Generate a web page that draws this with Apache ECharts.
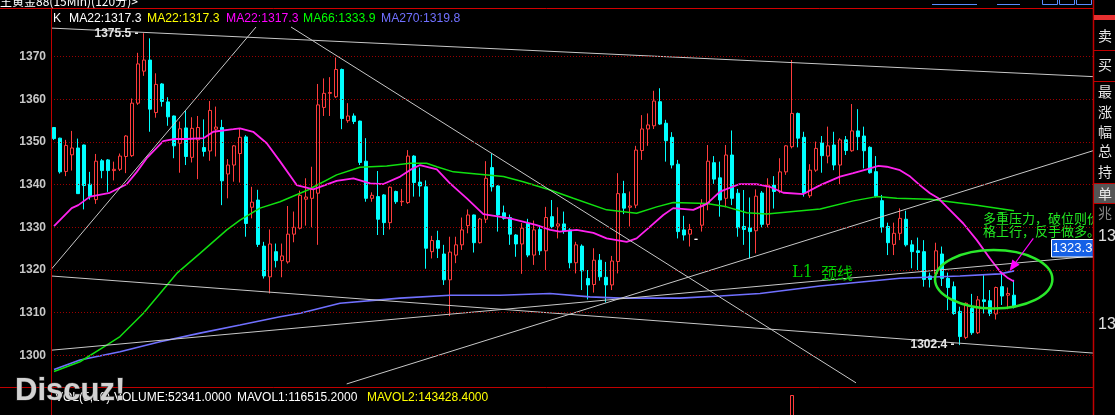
<!DOCTYPE html>
<html>
<head>
<meta charset="utf-8">
<script src="https://cdn.jsdelivr.net/npm/echarts@6.0.0/dist/echarts.min.js"></script>
<style>
html,body{margin:0;padding:0;background:#000;overflow:hidden;}
#chart{width:1115px;height:415px;}
</style>
</head>
<body>
<div id="chart"></div>
<script>
// ---------------- DATA ----------------
const opens = [1353.4,1350.9,1343.1,1347.0,1348.6,1349.3,1340.1,1336.5,1345.6,1345.8,
1343.3,1343.6,1346.6,1346.8,1359.1,1366.6,1369.2,1356.9,1363.6,1359.4,
1356.1,1349.7,1353.3,1346.4,1350.5,1348.7,1347.9,1353.0,1353.4,1342.5,
1344.6,1347.3,1351.2,1334.7,1336.4,1325.6,1318.4,1324.3,1322.2,1321.9,
1328.4,1329.8,1336.6,1336.8,1338.0,1358.1,1361.4,1360.6,1367.0,1355.0,
1356.1,1354.9,1345.5,1336.8,1337.2,1337.6,1331.1,1338.4,1336.0,1335.8,
1346.7,1340.6,1339.5,1324.3,1326.9,1323.75,1317.7,1323.5,1325.9,1330.4,
1332.9,1326.4,1331.9,1344.0,1339.7,1333.4,1332.3,1328.2,1326.1,1330.9,
1323.5,1329.5,1324.5,1332.5,1330.3,1330.8,1329.4,1321.7,1325.6,1318.0,
1316.6,1322.3,1318.3,1316.5,1322.0,1337.9,1334.7,1335.2,1348.0,1353.05,
1353.8,1359.45,1354.4,1351.1,1344.8,1329.4,1328.4,1327.2,1330.5,1335.6,
1345.15,1341.6,1336.8,1346.95,1338.0,1330.2,1329.9,1329.2,1338.05,1330.7,
1339.9,1338.4,1343.0,1348.9,1356.7,1351.1,1337.4,1343.4,1349.8,1346.7,
1349.3,1344.6,1350.5,1347.95,1352.6,1351.4,1348.75,1343.05,1336.25,1330.2,
1326.0,1328.6,1331.9,1325.9,1324.5,1324.3,1318.6,1319.1,1323.75,1318.05,
1316.1,1310.3,1304.2,1311.0,1305.3,1313.0,1312.8,1309.7,1316.1,1314.1,
1314.1];
const closes = [1350.8,1343.0,1349.2,1348.6,1337.9,1339.8,1337.2,1345.5,1343.3,1343.3,
1343.6,1346.7,1351.4,1359.1,1368.3,1369.2,1357.7,1363.5,1359.5,1355.9,
1349.1,1353.1,1346.6,1353.2,1353.4,1347.8,1357.4,1353.5,1340.9,1344.6,
1349.1,1351.1,1330.9,1335.9,1326.0,1318.6,1326.1,1322.2,1323.3,1328.4,
1330.0,1337.5,1337.1,1338.9,1358.7,1361.4,1361.6,1367.0,1355.5,1356.1,
1354.8,1345.2,1336.8,1337.5,1331.9,1331.1,1339.4,1336.0,1336.1,1346.7,
1340.5,1339.7,1325.1,1326.9,1325.1,1317.7,1324.2,1325.9,1329.4,1332.9,
1326.4,1331.95,1341.5,1339.5,1332.9,1332.1,1328.4,1326.1,1329.8,1323.5,
1329.4,1324.5,1332.3,1330.2,1330.8,1329.1,1321.7,1325.9,1319.8,1316.5,
1322.3,1318.4,1316.5,1322.1,1337.9,1334.5,1335.0,1348.1,1353.05,1354.0,
1359.6,1354.2,1350.3,1344.6,1329.0,1328.2,1329.5,1327.2,1335.5,1345.5,
1341.3,1336.4,1346.95,1336.8,1329.9,1329.5,1329.0,1337.3,1330.7,1339.9,
1338.4,1343.0,1349.1,1356.7,1350.9,1338.0,1343.4,1348.5,1346.8,1349.1,
1344.6,1350.5,1348.0,1352.6,1351.25,1347.95,1342.8,1337.3,1330.0,1326.4,
1328.6,1332.1,1325.9,1324.3,1324.1,1317.8,1317.8,1324.5,1318.05,1315.9,
1309.8,1304.4,1312.2,1305.3,1313.0,1312.6,1309.85,1315.9,1313.9,1314.5,
1311.4];
const lows = [1350.5,1342.6,1342.0,1343.3,1337.9,1334.2,1336.5,1335.5,1341.5,1338.3,
1341.0,1343.2,1342.7,1346.5,1358.7,1365.5,1352.4,1355.7,1358.3,1353.8,
1346.2,1342.8,1344.6,1345.2,1341.3,1346.6,1345.6,1346.6,1335.2,1336.8,
1340.7,1340.5,1327.8,1332.1,1325.4,1318.0,1314.5,1320.6,1318.3,1321.5,
1326.5,1329.5,1330.4,1330.0,1325.9,1356.1,1356.1,1360.3,1353.0,1354.5,
1354.2,1344.6,1336.0,1336.0,1328.2,1328.2,1329.5,1335.5,1335.0,1335.5,
1337.2,1337.2,1320.3,1322.7,1322.8,1316.5,1309.2,1321.6,1324.7,1328.6,
1324.1,1326.2,1331.0,1338.4,1329.0,1331.8,1325.9,1323.1,1319.1,1323.0,
1321.2,1323.5,1320.0,1329.8,1327.4,1328.5,1320.4,1319.2,1315.3,1313.1,
1314.7,1317.5,1312.4,1315.3,1319.2,1333.1,1330.2,1334.5,1345.8,1349.1,
1353.05,1354.0,1345.4,1343.8,1327.4,1326.9,1325.5,1327.2,1329.0,1334.0,
1340.2,1332.5,1334.7,1335.2,1327.8,1325.9,1322.7,1323.9,1330.0,1330.0,
1334.4,1338.0,1342.3,1348.5,1348.75,1337.2,1336.9,1343.0,1342.8,1345.0,
1343.4,1340.1,1346.95,1347.7,1348.1,1343.8,1342.6,1337.0,1328.75,1323.5,
1323.5,1327.0,1325.5,1320.4,1320.0,1316.1,1315.9,1318.8,1316.25,1310.6,
1309.5,1302.4,1303.8,1304.8,1305.0,1309.8,1309.2,1308.4,1311.8,1310.8,
1311.0];
const highs = [1353.4,1351.0,1350.5,1352.6,1350.8,1349.4,1343.0,1347.2,1346.0,1346.0,
1345.4,1347.3,1351.6,1360.2,1370.9,1375.5,1374.3,1366.1,1363.8,1360.5,
1356.2,1354.8,1357.5,1355.8,1356.1,1355.3,1359.6,1358.3,1355.2,1346.0,
1349.3,1353.1,1351.6,1339.5,1338.8,1326.6,1329.5,1326.2,1326.2,1335.0,
1333.7,1338.6,1341.5,1344.2,1363.6,1364.9,1365.2,1369.8,1367.2,1359.1,
1356.7,1355.0,1350.9,1338.2,1343.2,1337.8,1339.6,1338.6,1339.0,1348.1,
1346.9,1344.0,1341.0,1328.0,1329.2,1325.9,1327.8,1327.8,1332.3,1334.2,
1333.0,1332.2,1345.5,1347.3,1339.9,1335.1,1333.0,1328.4,1331.0,1332.0,
1331.6,1330.5,1334.8,1336.4,1334.7,1333.7,1329.8,1326.6,1326.0,1320.0,
1325.1,1323.75,1321.9,1323.3,1342.7,1340.9,1338.4,1349.1,1356.3,1356.7,
1362.0,1362.6,1355.2,1352.3,1345.8,1332.7,1330.8,1327.2,1336.6,1349.3,
1346.7,1345.4,1349.3,1352.7,1339.0,1338.75,1337.0,1338.9,1338.5,1341.5,
1342.0,1346.2,1349.3,1369.2,1356.9,1352.4,1344.8,1350.1,1351.4,1353.6,
1352.4,1350.9,1351.4,1358.9,1357.7,1353.6,1349.0,1346.7,1337.6,1331.1,
1331.1,1334.45,1333.9,1327.0,1327.6,1327.0,1319.4,1326.4,1325.5,1319.4,
1317.3,1311.4,1312.4,1314.4,1313.9,1318.8,1315.3,1316.1,1319.6,1315.9,
1317.7];

// moving averages: [bar index, price]
const ma22 = [[0,1330.3],[2.95,1334.5],[4.05,1335.2],[6,1337.2],[9.3,1338.1],[12.1,1340.1],[13.8,1343.0],
[15.45,1346.2],[18.2,1350.2],[19.9,1350.7],[22.1,1350.7],[24.9,1350.9],[26.55,1352.4],[29.9,1353.0],
[31,1353.2],[33.2,1352.4],[35.45,1349.7],[37.7,1345.4],[40.45,1339.9],[43.2,1338.9],[47.1,1340.9],
[49.9,1341.5],[52.7,1340.3],[54.9,1340.15],[57.7,1341.9],[59.3,1343.4],[61,1344.6],[63.8,1343.6],
[66,1340.3],[68.8,1336.8],[71.55,1333.1],[76,1332.1],[80.45,1330.5],[82.7,1329.4],[84.3,1329.0],
[87.1,1329.4],[89.9,1328.7],[92.1,1327.4],[95.45,1326.6],[97.1,1327.4],[99.3,1330.1],[101.55,1332.9],
[103.2,1334.5],[106.55,1334.1],[108.8,1335.5],[111,1338.35],[114.3,1340.15],[117.1,1340.1],
[119.3,1339.5],[121.55,1338.1],[124.9,1337.8],[127.7,1339.9],[131,1341.9],[133.2,1342.7],
[135.45,1343.6],[137.4,1344.4],[138.8,1344.2],[141,1343.4],[142.7,1341.9],[144.3,1339.9],
[146,1338.0],[147.4,1336.8],[148.8,1334.8],[151.55,1330.9],[153.8,1327.0],[156,1322.7],
[157.7,1319.6],[159.05,1318.05],[160,1317.3]];
const ma66 = [[0,1296.2],[4.33,1298.5],[8.78,1302.4],[11,1304.4],[14.9,1309.85],[17.67,1314.5],
[20.45,1319.2],[24.33,1323.9],[28.8,1329.4],[31,1331.7],[34.33,1334.5],[37.67,1336.0],[42.3,1338.75],
[47.1,1342.3],[51,1344.1],[55.45,1344.4],[59.3,1345.0],[62.1,1345.0],[63.8,1344.2],[66.55,1343.0],
[70.45,1342.5],[74.9,1341.9],[78.2,1340.7],[82.7,1338.75],[86.55,1336.8],[92.1,1334.1],[97.1,1333.3],
[100.45,1334.8],[103.2,1335.8],[108.8,1335.6],[112.1,1334.8],[115.45,1333.4],[118.8,1333.1],
[123.2,1333.7],[127.7,1334.3],[133.2,1336.2],[137.1,1337.2],[140.45,1336.8],[146,1336.6],
[153.8,1335.2],[160,1333.9]];
const ma270 = [[0,1296.7],[4.33,1298.9],[11,1300.85],[17.67,1303.2],[24.33,1305.2],[31,1307.1],
[37.67,1309.05],[41,1309.85],[47.67,1312.2],[57.67,1313.4],[66,1314.1],[74.33,1314.1],[82.67,1314.5],
[89.33,1313.7],[94.33,1313.4],[104.33,1313.4],[111,1313.9],[117.67,1314.5],[127.67,1316.25],
[141,1318.05],[151,1318.6],[157.67,1319.1],[160,1319.8]];

// hand-drawn trend lines: [bar index, price]
const trendTop = [[-0.5,1376.7],[173.5,1365.3]];
const trendRiseLeft = [[-0.5,1320.1],[33.67,1376.95]];
const trendFall = [[39.5,1376.95],[133.67,1293.55]];
const trendRiseLong = [[48.78,1293.3],[173.5,1348.1]];
const trendLowFall = [[-0.5,1318.6],[173.5,1300.5]];
const neckL1 = [[-0.5,1301.2],[173.5,1323.3]];

const yTicks = [1300,1310,1320,1330,1340,1350,1360,1370];
const slotCount = 174;
const categories = Array.from({length: slotCount}, (_, i) => String(i));
const legendTexts = ['K','MA22:1317.3','MA22:1317.3','MA22:1317.3','MA66:1333.9','MA270:1319.8'];
const volumeIdx = [123];
const volumeVal = [176000];
const volumeTexts = ['VOL(5,10)','VOLUME:52341.0000','MAVOL1:116515.2000','MAVOL2:143428.4000'];
const panelChars = ['卖','买','最','涨','幅','总','持','单','兆'];
const noteLines = ['多重压力，破位则价','格上行，反手做多。'];
const neckLabel = ['L1','颈线'];
const neckValue = '1323.3';

// ---------------- CHART ----------------
const candleData = opens.map((o, i) => [o, closes[i], lows[i], highs[i]]);
const volData = categories.map(() => null);
volumeIdx.forEach((k, j) => { volData[k] = volumeVal[j]; });

const RED = '#ff3c3c', CYAN = '#00ffff';
const FONT = '"Liberation Sans", Arial, sans-serif';
const CJK = '"Noto Sans CJK SC", sans-serif';

function lineSeries(data, color, width, z) {
  return {type:'line', xAxisIndex:1, yAxisIndex:0, data, symbol:'none', showSymbol:false,
    lineStyle:{color, width}, silent:true, z: z || 3, animation:false};
}

const legendColors = ['#ffffff','#ffffff','#ffff00','#ff00ff','#00ff00','#7070ff'];
const legendX = [53,69,147,226,303,381];
const panelY = [35.5,65,91.7,111.7,131.7,150.5,171.7,193.3,212.5];

const g = [];
// title (cut off at top)
g.push({type:'text', x:0, y:7, z:100, style:{text:'主黄金88(15Min)(120分)>', fill:'#ffffff', font:'12px '+CJK, verticalAlign:'bottom'}});
// top-right links
g.push({type:'line', z:100, shape:{x1:932,y1:4.5,x2:977,y2:4.5}, style:{stroke:'#5a8cff', lineWidth:1}});
g.push({type:'line', z:100, shape:{x1:997,y1:4.5,x2:1020,y2:4.5}, style:{stroke:'#5a8cff', lineWidth:1}});
[1042,1059,1076].forEach(x => g.push({type:'rect', z:100, shape:{x:x+0.5,y:-6,width:15,height:10.5}, style:{fill:'none', stroke:'#5a8cff', lineWidth:1}}));
// frame lines
g.push({type:'line', z:90, shape:{x1:0,y1:8.5,x2:1093,y2:8.5}, style:{stroke:'#d00000', lineWidth:1}});
g.push({type:'line', z:90, shape:{x1:0,y1:387.5,x2:1093,y2:387.5}, style:{stroke:'#c00000', lineWidth:1}});
g.push({type:'line', z:90, shape:{x1:51.5,y1:8.5,x2:51.5,y2:415}, style:{stroke:'#c00000', lineWidth:1}});
// legend
legendTexts.forEach((t, i) => g.push({type:'text', x:legendX[i], y:19, z:100,
  style:{text:t, fill:legendColors[i], font:'12.2px '+FONT, verticalAlign:'middle'}}));
// annotations
g.push({type:'ellipse', z:50, shape:{cx:993.7, cy:279.2, rx:58.7, ry:29.2}, style:{fill:'none', stroke:'#2ae82a', lineWidth:2.5}});
g.push({type:'text', x:983, y:218.3, z:50, style:{text:noteLines[0], fill:'#22e622', font:'13px '+CJK, verticalAlign:'middle'}});
g.push({type:'text', x:983, y:230.7, z:50, style:{text:noteLines[1], fill:'#22e622', font:'13px '+CJK, verticalAlign:'middle'}});
g.push({type:'line', z:50, shape:{x1:1033.3,y1:238.3,x2:1014.5,y2:264}, style:{stroke:'#ff00ff', lineWidth:1.2}});
g.push({type:'polygon', z:50, shape:{points:[[1009.5,271],[1019.6,264.75],[1012.4,259.45]]}, style:{fill:'#ff00ff'}});
g.push({type:'text', x:792, y:273, z:50, style:{text:neckLabel[0], fill:'#00cc00', font:'16px "DejaVu Serif", serif', verticalAlign:'middle'}});
g.push({type:'text', x:821, y:273, z:50, style:{text:neckLabel[1], fill:'#00cc00', font:'16px '+CJK, verticalAlign:'middle'}});
g.push({type:'rect', z:60, shape:{x:1051.5,y:239.5,width:42,height:17.5}, style:{fill:'#1560e6', stroke:'#ffffff', lineWidth:1}});
g.push({type:'text', x:1072.5, y:248.5, z:61, style:{text:neckValue, fill:'#ffffff', font:'13px '+FONT, align:'center', verticalAlign:'middle'}});
// right panel
g.push({type:'rect', z:100, shape:{x:1093,y:0,width:22,height:415}, style:{fill:'#000'}});
g.push({type:'line', z:101, shape:{x1:1093.5,y1:0,x2:1093.5,y2:415}, style:{stroke:'#c00000', lineWidth:1.5}});
g.push({type:'rect', z:101, shape:{x:1094,y:15,width:21,height:5}, style:{fill:'#e83030'}});
g.push({type:'rect', z:101, shape:{x:1094,y:183.5,width:21,height:19.5}, style:{fill:'#555555'}});
[50.5,81.5,183.5,203.5].forEach(y => g.push({type:'line', z:102, shape:{x1:1093,y1:y,x2:1115,y2:y}, style:{stroke:'#c00000', lineWidth:1}}));
panelChars.forEach((c, i) => g.push({type:'text', x:1098, y:panelY[i], z:103,
  style:{text:c, fill: i === 8 ? '#8a8a8a' : '#e6e6e6', font:'14px '+CJK, verticalAlign:'middle'}}));
g.push({type:'text', x:1098, y:237, z:103, style:{text:'13', fill:'#e0e0e0', font:'16px '+FONT, verticalAlign:'middle'}});
g.push({type:'text', x:1098, y:325, z:103, style:{text:'13', fill:'#e0e0e0', font:'16px '+FONT, verticalAlign:'middle'}});
// volume panel texts
g.push({type:'text', x:55, y:397.5, z:100, style:{text:volumeTexts[0], fill:'#ffffff', font:'12px '+FONT, verticalAlign:'middle'}});
g.push({type:'text', x:114, y:397.5, z:100, style:{text:volumeTexts[1], fill:'#ffffff', font:'12px '+FONT, verticalAlign:'middle'}});
g.push({type:'text', x:237, y:397.5, z:100, style:{text:volumeTexts[2], fill:'#ffffff', font:'12px '+FONT, verticalAlign:'middle'}});
g.push({type:'text', x:367, y:397.5, z:100, style:{text:volumeTexts[3], fill:'#ffff00', font:'12px '+FONT, verticalAlign:'middle'}});
// watermark
g.push({type:'text', x:15, y:391, z:110, style:{text:'Discuz!', fill:'#d2d2d2', font:'bold 31px '+FONT, verticalAlign:'middle', stroke:'rgba(70,70,70,0.8)', lineWidth:1}});

const option = {
  backgroundColor: '#000',
  animation: false,
  grid: [
    {left:51, top:9, width:1044, height:378},
    {left:51, top:392, width:1044, height:100}
  ],
  xAxis: [
    {type:'category', gridIndex:0, data:categories, show:false, boundaryGap:true},
    {type:'value', gridIndex:0, min:-0.5, max:slotCount-0.5, show:false},
    {type:'category', gridIndex:1, data:categories, show:false, boundaryGap:true}
  ],
  yAxis: [
    {type:'value', gridIndex:0, min:1292.58, max:1381.17, show:false, scale:true},
    {type:'value', gridIndex:1, min:0, max:200000, show:false}
  ],
  series: [
    {type:'line', xAxisIndex:1, yAxisIndex:0, data:[], z:1, silent:true,
      markLine:{silent:true, symbol:['none','none'], animation:false,
        lineStyle:{color:'#9a0000', type:[1,2], width:1},
        label:{show:true, position:'start', distance:5, color:'#c8c8c8', fontWeight:'bold', fontSize:12, fontFamily:'Liberation Sans', formatter: p => String(p.value)},
        data: yTicks.map(v => ({yAxis:v}))}},
    {type:'candlestick', xAxisIndex:0, yAxisIndex:0, data:candleData, barWidth:4, z:2,
      itemStyle:{color:'#000', color0:CYAN, borderColor:RED, borderColor0:CYAN, borderColorDoji:'#ffffff', borderWidth:1},
      markPoint:{symbol:'circle', symbolSize:1, itemStyle:{color:'rgba(0,0,0,0)'}, animation:false,
        label:{show:true, position:'left', distance:5, color:'#e6e6e6', fontWeight:'bold', fontSize:12, fontFamily:'Liberation Sans', formatter: p => p.name},
        data:[{name: highs[15].toFixed(1)+' -', coord:[15, highs[15]]}, {name: lows[151].toFixed(1)+' -', coord:[151, lows[151]]}]}},
    lineSeries(ma270, '#7070ff', 1.6),
    lineSeries(ma66, '#10e010', 1.5),
    lineSeries(ma22, '#ff22ee', 1.8),
    lineSeries(trendTop, '#c8c8c8', 1, 4),
    lineSeries(trendRiseLeft, '#c8c8c8', 1, 4),
    lineSeries(trendFall, '#c8c8c8', 1, 4),
    lineSeries(trendRiseLong, '#c8c8c8', 1, 4),
    lineSeries(trendLowFall, '#c8c8c8', 1, 4),
    lineSeries(neckL1, '#c8c8c8', 1, 4),
    {type:'bar', xAxisIndex:2, yAxisIndex:1, data:volData, barWidth:4,
      itemStyle:{color:'#000', borderColor:RED, borderWidth:1}, silent:true}
  ],
  graphic: g
};

const chart = echarts.init(document.getElementById('chart'));
chart.setOption(option);
</script>
</body>
</html>
